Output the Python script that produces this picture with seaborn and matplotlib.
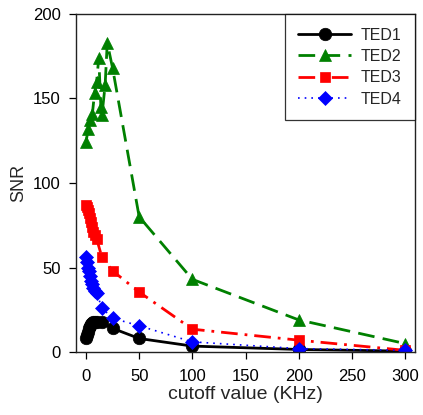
import matplotlib
matplotlib.use("Agg")
import matplotlib.pyplot as plt
import seaborn as sns
import pandas as pd

# cutoff values (KHz) and SNR for each test series
x_ted1 = [0, 1, 2, 3, 4, 5, 6, 7, 8, 10, 15, 25, 50, 100, 200, 300]
snr_ted1 = [8, 10, 12, 14, 15.5, 16.5, 17, 17.5, 17.5, 18, 17.5, 14, 8, 3.5, 1.5, 0.5]

x_ted2 = [0, 2, 4, 6, 8, 10, 12, 14, 15, 18, 20, 25, 50, 100, 200, 300]
snr_ted2 = [124, 132, 137, 141, 153, 160, 174, 145, 140, 158, 183, 168, 80, 43, 19, 5]

x_ted3 = [0, 1, 2, 3, 4, 5, 6, 7, 8, 10, 15, 25, 50, 100, 200, 300]
snr_ted3 = [87, 86, 84, 82, 79, 77, 74, 71, 69, 67, 56, 48, 35.5, 13.5, 7, 1]

x_ted4 = [0, 1, 2, 3, 4, 5, 6, 7, 8, 10, 15, 25, 50, 100, 200, 300]
snr_ted4 = [56.5, 53, 50, 48, 45, 42, 40, 38, 36, 35, 26, 20, 15.5, 6, 2, 1]

x_ticks = [0, 50, 100, 150, 200, 250, 300]
y_ticks = [0, 50, 100, 150, 200]

sns.set_theme(style="ticks")
plt.rcParams["font.family"] = ["Liberation Sans", "DejaVu Sans"]

fig = plt.figure(figsize=(4.23, 4.15), dpi=100)
ax = fig.add_axes([76 / 423, 1 - 352 / 415, (415 - 76) / 423, (352 - 14) / 415])

series = [
    ("TED1", x_ted1, snr_ted1, "black", "o", 9, "-", 2.0),
    ("TED2", x_ted2, snr_ted2, "#008000", "^", 9, (0, (6, 3)), 2.0),
    ("TED3", x_ted3, snr_ted3, "#ff0000", "s", 7.5, (0, (6, 2.5, 1, 2.5)), 2.0),
    ("TED4", x_ted4, snr_ted4, "#0000ff", "D", 7.5, (0, (1, 3)), 1.2),
]

for name, xs, ys, col, mk, ms, ls, lw in series:
    df = pd.DataFrame({"cutoff": xs, "SNR": ys})
    sns.lineplot(data=df, x="cutoff", y="SNR", ax=ax, sort=False,
                 color=col, marker=mk, markersize=ms, linestyle=ls,
                 linewidth=lw, markeredgecolor=col, markeredgewidth=0.5,
                 label=name)

ax.set_xlim(-9.4, 309.4)
ax.set_ylim(0, 200)
ax.set_xticks(x_ticks)
ax.set_yticks(y_ticks)
ax.tick_params(axis="both", direction="out", length=5, width=0.9,
               labelsize=12, colors="black")
ax.tick_params(axis="x", pad=7)
ax.tick_params(axis="y", pad=6)
for sp in ax.spines.values():
    sp.set_visible(True)
    sp.set_color("#222222")
    sp.set_linewidth(1.0)

ax.set_xlabel("cutoff value (KHz)", fontsize=14, labelpad=2)
ax.set_ylabel("SNR", fontsize=13, labelpad=4)

leg = ax.legend(loc="upper right", fontsize=11.5, frameon=True, fancybox=False,
                borderaxespad=0, handlelength=3.3, handletextpad=0.6,
                labelspacing=0.4, borderpad=0.85)
leg.get_frame().set_edgecolor("black")
leg.get_frame().set_linewidth(0.9)

fig.savefig("out.png", dpi=100)
